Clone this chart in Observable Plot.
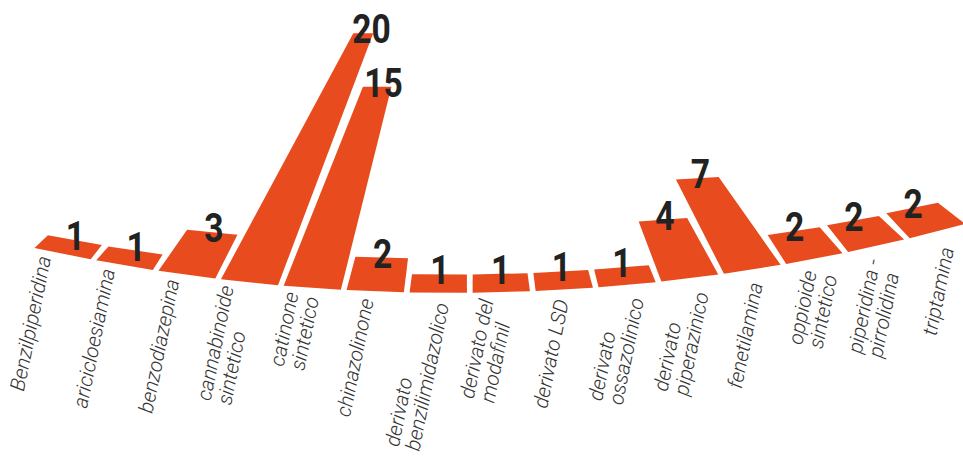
<!DOCTYPE html>
<html><head><meta charset="utf-8">
<script src="https://cdn.jsdelivr.net/npm/d3@7"></script>
<script src="https://cdn.jsdelivr.net/npm/@observablehq/plot@0.6"></script>
<style>body{margin:0;background:#fff}</style>
</head><body><div id="chart"></div>
<script>
const categories = ["Benzilpiperidina","aricicloesiamina","benzodiazepina","cannabinoide sintetico","catinone sintetico","chinazolinone","derivato benzilimidazolico","derivato del modafinil","derivato LSD","derivato ossazolinico","derivato piperazinico","fenetilamina","oppioide sintetico","piperidina - pirrolidina","triptamina"];
const tickLabels = ["Benzilpiperidina","aricicloesiamina","benzodiazepina","cannabinoide\nsintetico","catinone\nsintetico","chinazolinone","derivato\nbenzilimidazolico","derivato del\nmodafinil","derivato LSD","derivato\nossazolinico","derivato\npiperazinico","fenetilamina","oppioide\nsintetico","piperidina -\npirrolidina","triptamina"];
const values = [1,1,3,20,15,2,1,1,1,1,4,7,2,2,2];

// ---- perspective-arc layout (geometry only) ----
const W = 963, H = 460;
const C = [450.6, -1658.6], R = 1951;   // baseline arc
const V = [469, -200];                   // vanishing point of bar axes
const L = 420;                           // taper length
const arc = Plot.scale({x: {type: "band", domain: categories, range: [-422.7, 523.1], paddingInner: 0.09, paddingOuter: 0.045}});
const len = Plot.scale({y: {type: "pow", exponent: 0.9, domain: [0, 20], range: [0, 274]}});
const P = s => [C[0] + R * Math.sin(s / R), C[1] + R * Math.cos(s / R)];

const bars = [], tops = [], labs = [];
categories.forEach((c, i) => {
  const s0 = arc.apply(c), s1 = s0 + arc.bandwidth, sm = (s0 + s1) / 2;
  const BL = P(s0), BR = P(s1), B = P(sm);
  const ux = V[0] - B[0], uy = V[1] - B[1], un = Math.hypot(ux, uy);
  const u = [ux / un, uy / un];
  const h = len.apply(values[i]);
  const t = h / L;
  const T = [B[0] + u[0] * h, B[1] + u[1] * h];
  const w = Math.hypot(BR[0] - BL[0], BR[1] - BL[1]) * (1 - t);
  const a = Math.atan2(BR[1] - BL[1], BR[0] - BL[0]) * Math.max(0, 1 - 2.5 * t);
  const TL = [T[0] - Math.cos(a) * w / 2, T[1] - Math.sin(a) * w / 2];
  const TR = [T[0] + Math.cos(a) * w / 2, T[1] + Math.sin(a) * w / 2];
  for (const p of [BL, TL, TR, BR]) bars.push({cat: c, x: p[0], y: p[1]});
  tops.push({x: T[0] + 0.03 * h, y: T[1] + 10, v: values[i]});
  const k = i / (categories.length - 1);
  labs.push({x: B[0] - 18 + 28 * k, y: B[1] + 2.5 + 13.7 * k, label: tickLabels[i]});
});

const chart = Plot.plot({
  width: W, height: H, margin: 0, axis: null,
  x: {type: "identity"}, y: {type: "identity"},
  marks: [
    Plot.line(bars, {x: "x", y: "y", z: "cat", fill: "#e74b1e", stroke: "none", curve: "linear-closed"}),
    Plot.text(tops, {x: "x", y: "y", text: d => String(d.v), textAnchor: "middle", lineAnchor: "bottom",
      fontSize: 40, fontWeight: 700, fill: "#222", fontFamily: "Roboto, sans-serif"}),
    Plot.text(labs, {x: "x", y: "y", text: "label", rotate: -78.5, textAnchor: "end", lineAnchor: "middle",
      fontSize: 20.5, fontWeight: 300, fontStyle: "italic", fill: "#333", lineHeight: 1.02,
      fontFamily: "Roboto, 'Noto Sans', sans-serif"})
  ]
});
document.getElementById("chart").append(chart);

// condensed look for the value labels: squeeze glyphs horizontally
function squeeze(el, sx) {
  let tr = el.getAttribute("transform") || "";
  if (el.hasAttribute("x") || el.hasAttribute("y")) {
    const x = +el.getAttribute("x") || 0, y = +el.getAttribute("y") || 0;
    el.removeAttribute("x"); el.removeAttribute("y");
    tr = `translate(${x},${y}) ` + tr;
  }
  el.setAttribute("transform", tr + ` scale(${sx},1)`);
}
const groups = chart.querySelectorAll('g[aria-label="text"]');
groups[0].querySelectorAll("text").forEach(t => squeeze(t, 0.84));
groups[1].querySelectorAll("text").forEach(t => {
  const sp = t.querySelectorAll("tspan");
  if (sp.length > 1) {
    // multi-line labels: start-align the lines, longest line ending at the anchor
    const m = Math.max(...[...sp].map(s => s.getComputedTextLength()));
    t.setAttribute("text-anchor", "start");
    sp.forEach(s => s.setAttribute("x", -m));
  }
});
</script>
</body></html>
